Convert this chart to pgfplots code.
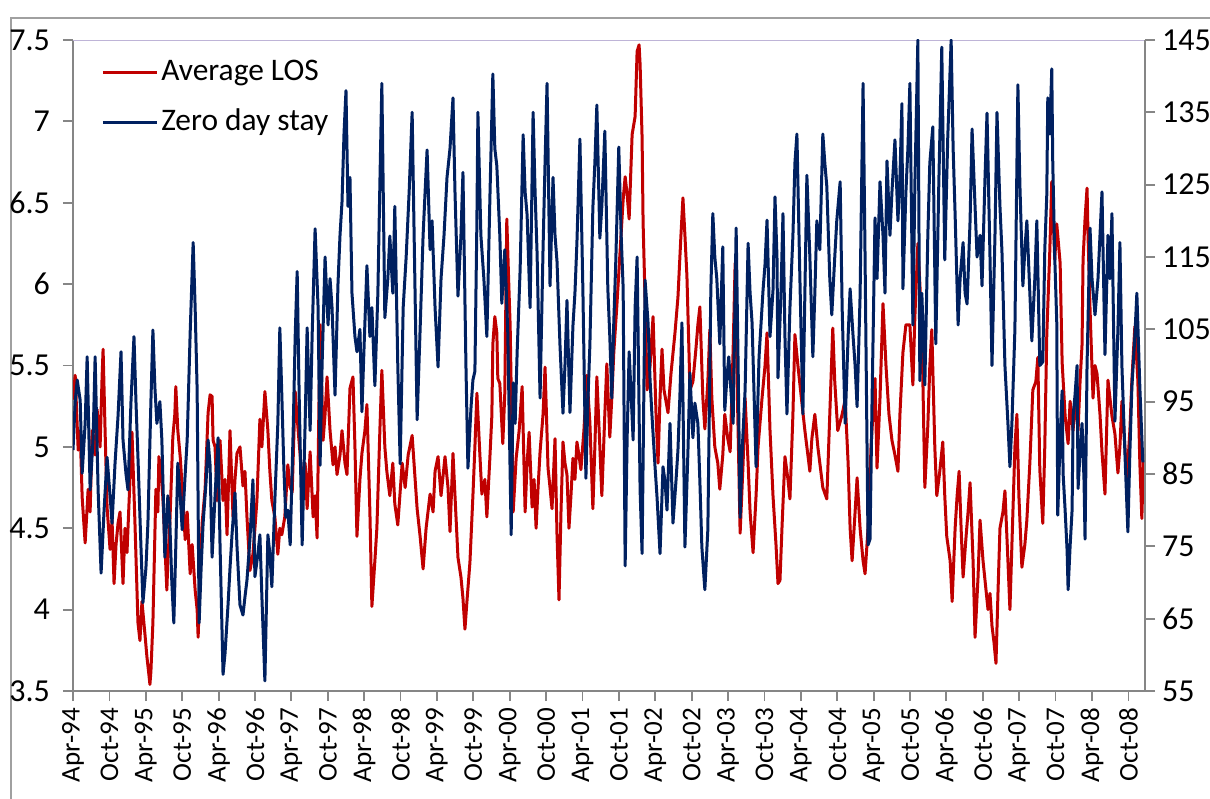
\documentclass[border=0pt]{standalone}
\usepackage{fontspec}
\setmainfont{Carlito}
\usepackage{pgfplots}
\usepackage{pgfplotstable}
\pgfplotsset{compat=1.18}
\definecolor{losred}{RGB}{192,0,0}
\definecolor{zdblue}{RGB}{0,32,96}
\definecolor{axgray}{RGB}{134,134,134}
\definecolor{bordergray}{RGB}{160,160,160}
\definecolor{topline}{RGB}{190,180,215}

% x = days since 1 April 1994
\pgfplotstableread{
d v
0 5.29
11 5.44
26 4.98
36 5.1
46 4.69
61 4.41
76 4.74
86 4.6
96 5.1
111 4.95
121 5.23
136 5.0
146 5.43
151 5.6
161 5.1
171 4.63
186 4.37
196 4.55
206 4.16
216 4.4
226 4.53
236 4.6
251 4.16
261 4.5
271 4.35
286 4.8
296 5.09
311 4.53
326 3.92
336 3.81
346 4.05
361 3.85
371 3.71
381 3.6
386 3.54
391 3.62
401 3.92
416 4.74
426 4.6
431 4.94
441 4.85
451 4.69
461 4.4
471 4.12
476 4.3
486 4.53
501 5.06
511 5.2
516 5.37
526 5.1
538 4.94
548 4.75
563 4.43
573 4.6
588 4.22
598 4.4
613 4.12
623 4.0
628 3.83
638 4.2
648 4.53
663 4.74
678 5.21
688 5.32
698 5.31
703 5.04
713 5.0
723 4.67
738 5.04
753 4.67
763 4.8
773 4.46
788 5.1
803 4.57
813 4.8
823 4.96
838 5.0
853 4.76
863 4.85
873 4.57
888 4.24
903 4.34
913 4.5
923 4.67
938 5.17
948 5.0
963 5.34
978 5.1
988 4.85
998 4.67
1013 4.57
1028 4.34
1038 4.5
1048 4.46
1063 4.57
1078 4.89
1090 4.75
1100 4.72
1115 5.34
1130 5.1
1140 4.95
1150 4.79
1165 4.9
1175 4.62
1190 4.97
1205 4.57
1215 4.7
1225 4.44
1240 5.75
1250 5.3
1255 5.04
1265 5.2
1275 5.43
1290 5.1
1305 4.89
1315 5.0
1325 4.83
1340 4.95
1350 5.1
1365 4.9
1375 4.83
1390 5.36
1405 5.43
1415 5.0
1425 4.45
1440 4.8
1450 4.96
1465 5.1
1475 5.26
1490 4.6
1500 4.02
1515 4.3
1525 4.5
1540 5.1
1550 5.47
1565 5.0
1575 4.85
1590 4.7
1605 4.9
1615 4.65
1630 4.52
1652 4.9
1667 4.75
1682 4.95
1702 5.07
1717 4.8
1727 4.62
1742 4.45
1757 4.25
1772 4.5
1792 4.71
1807 4.6
1817 4.85
1832 4.94
1847 4.7
1867 4.94
1882 4.75
1892 4.48
1907 4.96
1917 4.7
1932 4.32
1947 4.2
1957 4.07
1967 3.88
1977 4.05
1992 4.29
2007 4.7
2017 5.0
2027 5.33
2042 4.95
2052 4.71
2067 4.8
2077 4.57
2092 4.93
2102 5.19
2107 5.63
2117 5.8
2127 5.7
2132 5.42
2142 5.39
2157 5.02
2167 5.33
2177 6.4
2187 6.0
2194 5.74
2209 4.6
2224 4.93
2239 5.1
2254 5.37
2269 4.6
2279 4.9
2289 5.09
2304 4.63
2314 4.8
2324 4.5
2334 4.75
2344 4.97
2359 5.2
2369 5.49
2384 4.87
2394 4.75
2404 4.62
2419 5.05
2429 4.46
2439 4.06
2449 4.6
2459 5.03
2469 4.9
2479 4.83
2489 4.5
2499 4.7
2509 4.93
2519 4.8
2529 5.03
2539 4.95
2549 4.86
2564 5.1
2579 5.44
2594 5.15
2609 4.62
2619 5.0
2629 5.43
2644 5.0
2654 4.7
2669 5.2
2679 5.51
2694 5.06
2704 5.3
2714 5.58
2729 5.86
2746 6.21
2761 6.52
2771 6.66
2781 6.55
2791 6.4
2806 6.92
2821 7.03
2831 7.43
2841 7.47
2846 7.35
2856 6.9
2861 6.38
2871 5.9
2881 5.35
2896 5.5
2911 5.8
2926 5.2
2936 4.9
2946 5.3
2956 5.6
2966 5.35
2986 5.21
3001 5.45
3021 5.7
3036 5.92
3051 6.3
3061 6.53
3071 6.3
3081 6.05
3091 5.6
3096 5.35
3111 5.4
3126 5.6
3136 5.75
3146 5.86
3161 5.3
3171 5.11
3186 5.4
3196 5.72
3206 5.3
3221 5.0
3236 4.9
3246 4.74
3261 4.95
3271 5.2
3286 5.05
3298 4.97
3313 5.6
3323 6.13
3333 5.4
3348 4.47
3363 4.9
3373 5.3
3388 4.9
3398 4.6
3413 4.35
3428 4.7
3438 5.0
3458 5.3
3473 5.5
3483 5.7
3498 5.1
3513 4.7
3528 4.4
3538 4.16
3548 4.18
3558 4.5
3573 4.94
3588 4.8
3598 4.68
3613 5.2
3623 5.69
3638 5.5
3658 5.27
3673 5.1
3688 4.95
3698 4.85
3708 5.05
3723 5.2
3738 5.0
3748 4.9
3763 4.75
3783 4.68
3798 5.2
3813 5.73
3823 5.4
3838 5.1
3860 5.2
3875 5.29
3890 4.9
3900 4.5
3910 4.3
3925 4.6
3935 4.81
3950 4.5
3965 4.3
3975 4.22
3990 4.5
4005 5.0
4025 5.42
4035 4.87
4050 5.3
4065 5.88
4080 5.5
4095 5.2
4110 5.04
4125 4.95
4140 4.85
4150 5.2
4165 5.58
4180 5.75
4200 5.75
4215 5.38
4225 5.8
4240 6.25
4250 6.0
4260 5.75
4275 4.75
4290 5.13
4300 5.5
4310 5.72
4325 5.0
4335 4.7
4350 4.85
4365 5.03
4375 4.7
4385 4.45
4402 4.3
4412 4.05
4427 4.5
4437 4.7
4447 4.85
4457 4.5
4467 4.2
4482 4.45
4492 4.6
4502 4.78
4517 4.3
4527 3.83
4542 4.2
4552 4.55
4567 4.3
4577 4.18
4592 4.0
4602 4.1
4612 3.9
4622 3.8
4632 3.67
4642 4.1
4652 4.5
4667 4.6
4677 4.73
4692 4.3
4702 4.0
4717 4.6
4727 5.0
4737 5.2
4747 4.7
4762 4.26
4777 4.4
4787 4.55
4802 4.9
4817 5.35
4832 5.4
4842 5.55
4852 4.86
4867 4.53
4877 5.0
4887 5.69
4902 6.2
4912 6.63
4927 6.15
4937 6.37
4954 6.13
4964 5.52
4979 5.19
4994 5.02
5004 5.28
5019 5.1
5029 5.3
5044 5.1
5054 5.4
5064 5.63
5069 6.15
5079 6.4
5089 6.59
5094 6.3
5104 5.85
5119 5.3
5129 5.5
5139 5.45
5154 5.2
5164 4.97
5179 4.71
5194 5.41
5204 5.3
5214 5.19
5229 5.08
5244 4.84
5254 5.0
5264 5.28
5279 5.0
5289 4.8
5304 5.1
5314 5.41
5329 5.74
5344 5.41
5354 4.9
5364 4.56
5374 4.99
}\losdata

\pgfplotstableread{
d v
0 88.3
11 95
21 98
36 95.2
46 85.1
61 92
71 101.2
86 82.8
101 90
111 101.2
126 82.8
141 71.3
156 80
171 87.3
186 82
196 78.2
211 86.5
226 93
241 101.9
251 89.7
266 85
276 82.8
291 95
306 104
316 95
326 87.3
341 75
351 67.2
366 72
376 78.2
391 95
401 104.9
411 97
421 92
436 95
446 89.7
461 73.5
476 82
486 78.2
496 70
506 64.4
516 75
526 86.5
538 82
548 77.3
563 85
573 89.7
588 104.5
603 117
613 108
623 96.6
633 64.4
643 72
653 78.2
668 84
678 89.7
688 86.2
698 73.5
713 82
728 90
738 75
753 57.3
763 60.2
778 66.9
788 72
798 76.6
813 82.4
823 75
838 66.9
853 65.5
863 68
873 70.3
888 76
903 84.2
913 70.8
928 74
938 76.6
948 68
963 56.4
978 76.6
988 74
998 69.4
1013 81.4
1028 92
1038 105.2
1048 95.9
1058 86
1068 79
1078 80
1090 75.2
1105 91
1115 104
1125 113
1135 95.9
1150 75.2
1165 92
1175 105.2
1190 91
1200 104
1215 118.9
1230 108
1240 86.2
1250 100
1265 115
1280 105.6
1290 112
1300 108
1315 95.9
1330 111.4
1340 118
1350 122.6
1360 132
1370 138
1380 122
1390 126
1400 110
1415 104
1425 101.9
1440 105
1450 93.6
1460 102
1475 113.8
1490 104
1500 108
1515 97.2
1530 110
1540 125
1550 139
1565 106.6
1580 112
1590 117.9
1605 110
1615 122
1630 100
1642 86.4
1657 108
1672 115
1687 124
1702 135
1712 118
1727 92.5
1742 105
1757 118
1767 124
1777 129.8
1792 116
1802 120
1817 108
1832 99.8
1847 112
1862 118
1877 126
1892 130
1907 137
1917 124
1932 109.6
1947 118
1957 126.7
1972 100
1982 85.8
1997 94
2007 98
2017 99.2
2027 120
2032 135
2047 118
2062 112
2077 104
2092 122.9
2107 140.3
2117 130
2127 127.6
2142 118
2152 108.6
2167 116
2182 104.5
2199 76.6
2209 97.6
2219 92
2229 101.9
2244 113.3
2259 131.9
2269 124
2279 120.8
2294 108
2309 135
2319 124
2329 115.5
2344 95.5
2359 116.2
2369 128
2379 139
2394 111
2409 126
2419 118
2429 114.4
2444 102.8
2459 93.4
2469 100
2479 109
2494 93.5
2509 105.5
2519 110
2529 117
2544 131.3
2559 110.3
2574 84.4
2584 95
2594 102.8
2609 121.8
2619 128
2629 136
2644 117.6
2654 122
2669 132.4
2684 110.7
2694 104
2704 95.5
2714 106
2724 114.4
2739 130.2
2751 118
2761 110.7
2771 72.3
2781 90
2791 101.9
2801 96
2811 89.7
2821 108
2831 115
2846 82.8
2856 74
2871 111.8
2886 105.9
2896 98
2906 92.9
2921 86
2931 81.8
2946 74
2961 86
2971 84
2981 80
2996 92
3011 78.2
3026 84
3036 88.3
3046 96
3056 105.9
3071 74.9
3086 88
3096 99
3111 90
3121 94.8
3136 92
3146 84
3156 74.9
3171 69
3186 77.3
3201 110.4
3211 121
3221 115
3231 112
3246 103
3261 116.4
3271 93.8
3281 98
3291 101.2
3303 96
3313 92
3328 119
3338 100
3348 79
3358 88
3373 96.6
3388 116.9
3398 110
3408 105.9
3418 96
3428 86
3443 101.2
3463 110.4
3473 114
3483 120.1
3498 104
3513 110.4
3523 123.3
3533 115
3538 98.3
3553 110
3563 121
3573 104
3583 93.3
3598 108
3613 118
3623 128
3633 132
3648 112
3663 93.3
3673 110
3683 126.3
3698 115
3713 101.2
3723 110
3733 120
3748 116
3763 132
3773 128
3783 124.8
3798 112
3808 107
3823 115
3833 120
3850 125.4
3860 108
3875 92
3890 104
3900 110.6
3915 104
3925 100
3935 94.3
3950 109.6
3965 139
3975 115
3990 75.2
4000 76
4010 95
4025 120.4
4035 112
4050 125.4
4065 118
4075 110
4085 128.3
4100 118
4110 124
4125 131.2
4140 120
4150 126
4160 136.2
4165 110.6
4180 124
4190 130
4200 139
4215 105.6
4225 125
4240 145
4250 97.9
4260 110
4275 97.3
4290 118
4300 128
4315 133
4330 103
4345 125
4360 144
4375 114.6
4390 131.5
4407 145
4417 130
4427 120.8
4442 105.6
4452 112
4467 117
4477 110
4487 108.5
4502 120
4512 132.7
4527 122
4537 115
4552 118
4562 111
4577 126
4587 134.9
4602 115
4612 100
4627 118
4637 135
4652 122
4662 115.8
4677 100
4692 92
4702 86
4712 92
4727 105
4742 138.8
4752 125
4767 111
4777 116
4787 120
4802 110
4812 103.4
4827 112
4837 120
4852 100
4867 100.5
4877 116
4887 123.6
4892 137
4902 132
4912 141
4917 128
4927 115
4937 106
4942 79.3
4954 90
4964 96.5
4969 85
4979 80
4989 74.4
4994 69
5004 75
5014 80
5019 93
5029 96
5039 100
5044 83
5054 88
5064 92
5074 84
5079 76
5089 100
5104 119
5114 112
5129 107
5144 112
5154 118
5164 124
5179 101.5
5194 118
5204 112
5214 121
5229 92.3
5244 105
5254 117
5264 100
5279 88
5294 77
5304 88
5314 97
5329 104
5339 110
5354 97
5369 86.6
}\zdsdata

\begin{document}
\begin{tikzpicture}
\path[use as bounding box] (0,0) rectangle (605bp,399.5bp);
\draw[bordergray, line width=1bp] (5.5bp,-2bp) -- (5.5bp,390.5bp) -- (607bp,390.5bp);
\pgfplotsset{
  common/.style={
    scale only axis, width=536bp, height=325.5bp,
    at={(36.5bp,54bp)}, anchor=south west,
    xmin=0, xmax=5380,
    tick align=outside, major tick length=5bp,
    every tick/.style={axgray, line width=0.9bp},
    axis line style={-, axgray, line width=1bp},
    /pgf/number format/assume math mode=true,
    tick label style={font=\fontsize{16bp}{18bp}\selectfont, text=black},
  }
}
\begin{axis}[common,
  axis x line*=bottom, axis y line*=left,
  ymin=3.5, ymax=7.5, ytick={3.5,4,4.5,5,5.5,6,6.5,7,7.5},
  yticklabel style={xshift=-3bp},
  xtick={0,183,365,548,731,914,1096,1279,1461,1644,1826,2009,2192,2375,2557,2740,2922,3105,3287,3470,3653,3836,4018,4201,4383,4566,4748,4931,5114,5297},
  xticklabels={Apr-94,Oct-94,Apr-95,Oct-95,Apr-96,Oct-96,Apr-97,Oct-97,Apr-98,Oct-98,Apr-99,Oct-99,Apr-00,Oct-00,Apr-01,Oct-01,Apr-02,Oct-02,Apr-03,Oct-03,Apr-04,Oct-04,Apr-05,Oct-05,Apr-06,Oct-06,Apr-07,Oct-07,Apr-08,Oct-08},
  xticklabel style={rotate=90, anchor=east, font=\fontsize{13.5bp}{15bp}\selectfont},
]
\addplot[losred, line width=1.5bp, line join=round] table[x=d,y=v]{\losdata};
\draw[topline, line width=0.9bp] (rel axis cs:0,1) -- (rel axis cs:1,1);
\end{axis}
\begin{axis}[common,
  axis x line=none, axis y line*=right,
  ymin=55, ymax=145, ytick={55,65,75,85,95,105,115,125,135,145},
  legend style={at={(axis description cs:0.026,0.978)}, anchor=north west,
    draw=none, fill=none, inner sep=0pt, row sep=7bp,
    font=\fontsize{15.7bp}{18bp}\selectfont,
    nodes={inner sep=1.5bp, text height=11.5bp, text depth=3.3bp}},
  legend cell align=left,
  legend image code/.code={\draw[#1] (0bp,0bp) -- (27bp,0bp);},
]
\addlegendimage{losred, line width=1.5bp}
\addlegendentry{Average LOS}
\addplot[zdblue, line width=1.5bp, line join=round] table[x=d,y=v]{\zdsdata};
\addlegendentry{Zero day stay}
\end{axis}
\end{tikzpicture}
\end{document}
